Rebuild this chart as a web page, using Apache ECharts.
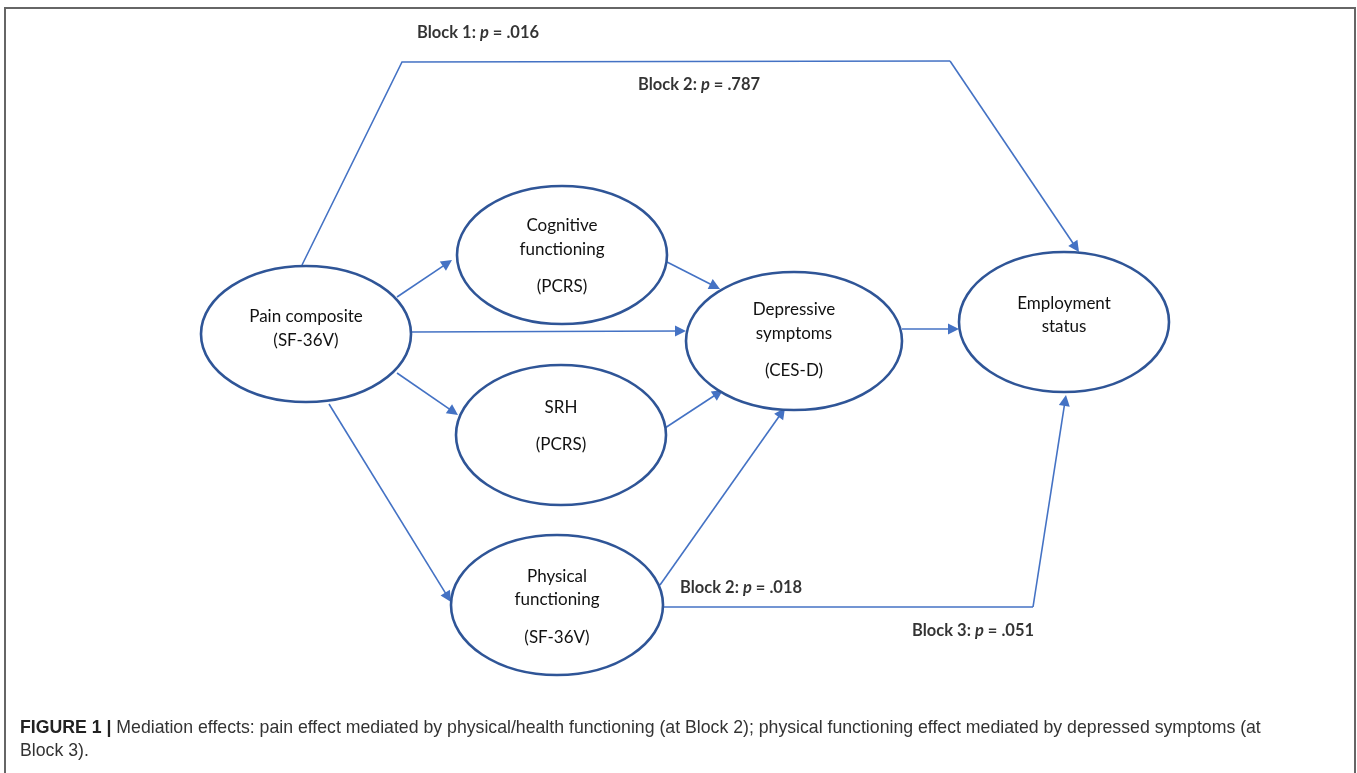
<!DOCTYPE html>
<html>
<head>
<meta charset="utf-8">
<script src="https://cdn.jsdelivr.net/npm/echarts@6/dist/echarts.min.js"></script>
<style>
  html, body { margin: 0; padding: 0; background: #fff; }
  #chart { width: 1357px; height: 773px; }
</style>
</head>
<body>
<div id="chart"></div>
<script>
// ── nodes: centre, radii, text lines with their y (px in the figure)
const nodeNames = ['pain', 'cognitive', 'srh', 'physical', 'depressive', 'employment']
const nodeCenters = [[306, 334], [562, 255], [561, 435], [557, 605], [794, 341], [1064, 322]]
const nodeRadii = [[105, 68], [105, 69], [105, 70], [106, 70], [108, 69], [105, 70]]
const nodeLines = [
  ['Pain composite', '(SF-36V)'],
  ['Cognitive', 'functioning', '(PCRS)'],
  ['SRH', '(PCRS)'],
  ['Physical', 'functioning', '(SF-36V)'],
  ['Depressive', 'symptoms', '(CES-D)'],
  ['Employment', 'status'],
]
const nodeLineY = [
  [317, 341],
  [226, 250, 287],
  [408, 445],
  [577, 600, 638],
  [310, 334, 371],
  [304, 327],
]

// ── paths (last point = arrow tip)
const edgePaths = [
  [[397, 297], [452, 260]],
  [[667, 262], [720, 289]],
  [[412, 332], [686, 331]],
  [[397, 373], [458, 415]],
  [[665, 428], [723, 390]],
  [[660, 585], [785, 408]],
  [[329, 404], [451, 602]],
  [[902, 329], [959, 329]],
  [[302, 265], [402, 62], [950, 61], [1079, 252]],
  [[663, 607], [1033, 607], [1066, 395]],
]

// ── p-value labels: anchor (left, middle) and text
const pLabelPos = [[417, 33], [638, 85], [680, 588], [912, 631]]
const pLabelBlock = ['Block 1', 'Block 2', 'Block 2', 'Block 3']
const pLabelValue = ['.016', '.787', '.018', '.051']

const captionLines = [
  'Mediation effects: pain effect mediated by physical/health functioning (at Block 2); physical functioning effect mediated by depressed symptoms (at',
  'Block 3).',
]

const EDGE = '#4472C4'
const NODE = '#2F5597'
const ARROW = 11

// pull the line end back so the arrow tip lands on the given point
function trimEnd(a, b) {
  const dx = b[0] - a[0], dy = b[1] - a[1]
  const len = Math.sqrt(dx * dx + dy * dy)
  return [a, [b[0] - dx / len * ARROW / 2, b[1] - dy / len * ARROW / 2]]
}

// bends drawn as plain polylines, last segment carries the arrowhead
const bendData = edgePaths.filter(p => p.length > 2).map(p => ({ coords: p.slice(0, -1) }))
const arrowData = edgePaths.map(p => ({ coords: trimEnd(p[p.length - 2], p[p.length - 1]) }))

const chart = echarts.init(document.getElementById('chart'), null, { renderer: 'canvas' })

chart.setOption({
  animation: false,
  grid: { left: 0, right: 0, top: 0, bottom: 0 },
  xAxis: { type: 'value', min: 0, max: 1357, show: false },
  yAxis: { type: 'value', min: 0, max: 773, inverse: true, show: false },
  graphic: [
    {
      type: 'rect',
      shape: { x: 5, y: 8, width: 1350, height: 800 },
      style: { fill: 'none', stroke: '#666', lineWidth: 2 },
      silent: true,
    },
    {
      type: 'text',
      left: 20,
      top: 717,
      style: {
        text: '{b|FIGURE 1 |} ' + captionLines[0] + '\n' + captionLines[1],
        rich: {
          b: { fontWeight: 'bold', fontFamily: 'Liberation Sans', fontSize: 17.7, fill: '#222' },
        },
        fontFamily: 'Liberation Sans',
        fontSize: 17.7,
        lineHeight: 23,
        fill: '#333',
      },
    },
  ],
  series: [
    {
      type: 'lines',
      coordinateSystem: 'cartesian2d',
      polyline: true,
      silent: true,
      symbol: 'none',
      lineStyle: { color: EDGE, width: 1.6, opacity: 1 },
      data: bendData,
      z: 2,
    },
    {
      type: 'lines',
      coordinateSystem: 'cartesian2d',
      silent: true,
      symbol: ['none', 'triangle'],
      symbolSize: [10, ARROW],
      lineStyle: { color: EDGE, width: 1.6, opacity: 1 },
      data: arrowData,
      z: 2,
    },
    {
      type: 'custom',
      silent: true,
      data: nodeNames.map((n, i) => [nodeCenters[i][0], nodeCenters[i][1], nodeRadii[i][0], nodeRadii[i][1], i]),
      renderItem(params, api) {
        const i = api.value(4)
        const c = api.coord([api.value(0), api.value(1)])
        const s = api.size([api.value(2), api.value(3)])
        const children = [{
          type: 'ellipse',
          shape: { cx: c[0], cy: c[1], rx: s[0], ry: s[1] },
          style: { fill: '#fff', stroke: NODE, lineWidth: 2.6 },
        }]
        nodeLines[i].forEach((t, k) => {
          const p = api.coord([api.value(0), nodeLineY[i][k]])
          children.push({
            type: 'text',
            style: {
              text: t, x: p[0], y: p[1],
              align: 'center', verticalAlign: 'middle',
              fontFamily: 'Lato', fontSize: 17, fill: '#111',
            },
          })
        })
        return { type: 'group', children }
      },
      z: 3,
    },
    {
      type: 'scatter',
      silent: true,
      symbolSize: 0,
      data: pLabelPos.map((p, i) => ({ value: p, block: pLabelBlock[i], pv: pLabelValue[i] })),
      label: {
        show: true,
        position: 'right',
        distance: 0,
        formatter: (d) => `{b|${d.data.block}: }{i|p}{b| = ${d.data.pv}}`,
        rich: {
          b: { fontFamily: 'Lato', fontWeight: 'bold', fontSize: 16.5, color: '#000' },
          i: { fontFamily: 'Lato', fontWeight: 'bold', fontStyle: 'italic', fontSize: 16.5, color: '#000' },
        },
      },
      z: 4,
    },
  ],
})
</script>
</body>
</html>
